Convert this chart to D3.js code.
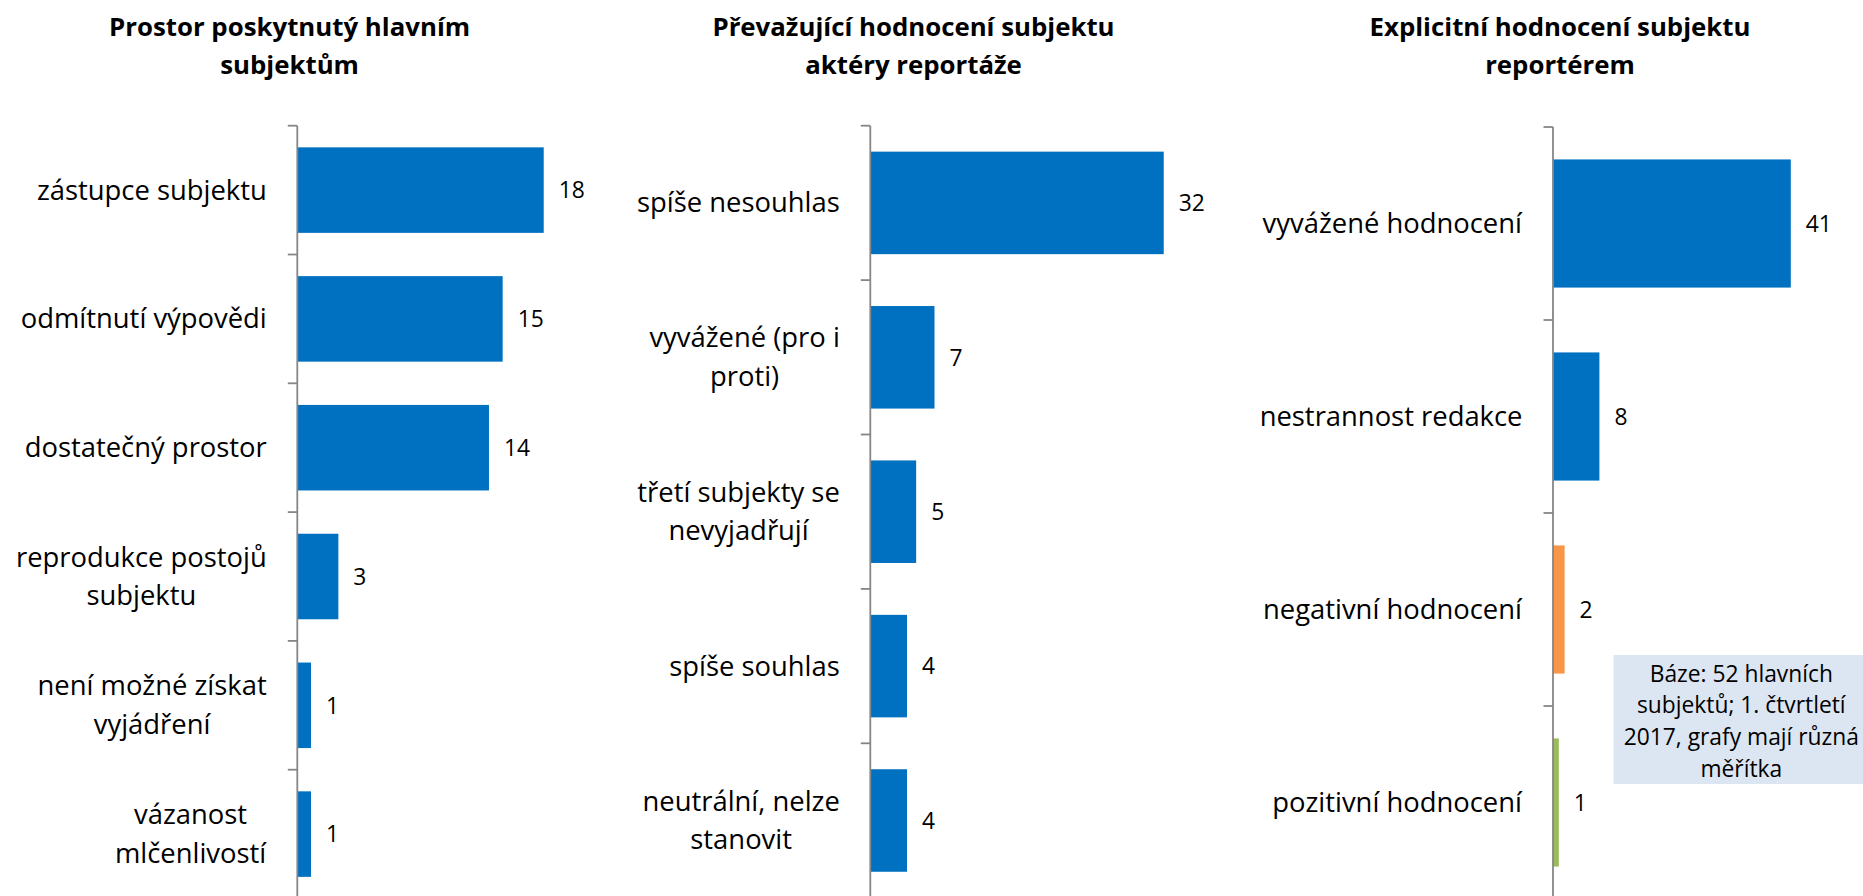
<!DOCTYPE html>
<html>
<head>
<meta charset="utf-8">
<title>Hodnocení hlavních subjektů</title>
<style>
  body { margin: 0; background: #fff; }
  svg { display: block; }
  text { font-family: "Open Sans", sans-serif; fill: #000; }
</style>
</head>
<body>
<script src="https://d3js.org/d3.v7.min.js"></script>
<script>
// --- data ---
var titles = [
  "Prostor poskytnutý hlavním\nsubjektům",
  "Převažující hodnocení subjektu\naktéry reportáže",
  "Explicitní hodnocení subjektu\nreportérem"
];

var cats1 = ["zástupce subjektu", "odmítnutí výpovědi", "dostatečný prostor",
             "reprodukce postojů\nsubjektu", "není možné získat\nvyjádření", "vázanost\nmlčenlivostí"];
var vals1 = [18, 15, 14, 3, 1, 1];

var cats2 = ["spíše nesouhlas", "vyvážené (pro i\nproti)", "třetí subjekty se\nnevyjadřují",
             "spíše souhlas", "neutrální, nelze\nstanovit"];
var vals2 = [32, 7, 5, 4, 4];

var cats3 = ["vyvážené hodnocení", "nestrannost redakce", "negativní hodnocení", "pozitivní hodnocení"];
var vals3 = [41, 8, 2, 1];

var noteLines = ["Báze: 52 hlavních", "subjektů; 1. čtvrtletí", "2017, grafy mají různá", "měřítka"];

// --- styles ---
var blue = "#0070C0";
var colors3 = [blue, blue, "#F79646", "#9BBB59"];

var width = 1863, height = 896;
var svg = d3.select("body").append("svg")
  .attr("width", width)
  .attr("height", height);

// each panel: where the axis sits and how long a unit is
var panels = [
  { title: titles[0], cats: cats1, vals: vals1, axisX: 297.3, top: 125.7, bottom: 898.5, max: 20, unit: 13.69, titleX: 289.6 },
  { title: titles[1], cats: cats2, vals: vals2, axisX: 870.3, top: 125.7, bottom: 897.7, max: 35, unit: 9.17, titleX: 913.5 },
  { title: titles[2], cats: cats3, vals: vals3, axisX: 1553, top: 127, bottom: 899, max: 45, unit: 5.8, titleX: 1560, colors: colors3 }
];

panels.forEach(function(p) {
  var g = svg.append("g");

  var y = d3.scaleBand()
    .domain(p.cats)
    .range([p.top, p.bottom])
    .paddingInner(0.336)
    .paddingOuter(0.168);

  var x = d3.scaleLinear()
    .domain([0, p.max])
    .range([p.axisX, p.axisX + p.max * p.unit]);

  // title
  var tt = g.append("text")
    .attr("text-anchor", "middle")
    .attr("font-size", 25.8)
    .attr("font-weight", "bold");
  p.title.split("\n").forEach(function(l, j) {
    tt.append("tspan").attr("x", p.titleX).attr("y", 35.5 + j * 38.5).text(l);
  });

  // bars
  g.selectAll("rect.bar")
    .data(p.vals)
    .enter().append("rect")
    .attr("class", "bar")
    .attr("x", x(0))
    .attr("y", function(d, i) { return y(p.cats[i]); })
    .attr("width", function(d) { return x(d) - x(0); })
    .attr("height", y.bandwidth())
    .attr("fill", function(d, i) { return p.colors ? p.colors[i] : blue; });

  // value labels
  g.selectAll("text.val")
    .data(p.vals)
    .enter().append("text")
    .attr("class", "val")
    .attr("x", function(d) { return x(d) + 15; })
    .attr("y", function(d, i) { return y(p.cats[i]) + y.bandwidth() / 2; })
    .attr("dy", "0.36em")
    .attr("font-size", 22.8)
    .text(function(d) { return d; });

  // axis line and ticks between categories
  var ax = g.append("g").attr("stroke", "#868686").attr("stroke-width", 1.8);
  ax.append("line")
    .attr("x1", p.axisX).attr("x2", p.axisX)
    .attr("y1", p.top).attr("y2", p.bottom);
  ax.selectAll("line.tick")
    .data(d3.range(p.cats.length + 1))
    .enter().append("line")
    .attr("class", "tick")
    .attr("x1", p.axisX - 9.5).attr("x2", p.axisX)
    .attr("y1", function(i) { return p.top + i * y.step(); })
    .attr("y2", function(i) { return p.top + i * y.step(); });

  // category labels, wrapped lines centred, block right-aligned
  var labelRight = p.axisX - 30.5;
  p.cats.forEach(function(c) {
    var lines = c.split("\n");
    var cy = y(c) + y.bandwidth() / 2;
    var t = g.append("text")
      .attr("text-anchor", "middle")
      .attr("font-size", 27.4);
    lines.forEach(function(l, j) {
      t.append("tspan")
        .attr("x", 0)
        .attr("y", cy + 9.4 + (j - (lines.length - 1) / 2) * 38.5)
        .text(l);
    });
    var w = t.node().getBBox().width;
    t.selectAll("tspan").attr("x", labelRight - w / 2);
  });
});

// note box
svg.append("rect")
  .attr("x", 1613.5).attr("y", 655)
  .attr("width", 256).attr("height", 129)
  .attr("fill", "#DCE6F2");

var nt = svg.append("text")
  .attr("text-anchor", "middle")
  .attr("font-size", 22.8);
noteLines.forEach(function(l, j) {
  nt.append("tspan").attr("x", 1741.3).attr("y", 681.7 + j * 31.7).text(l);
});
</script>
</body>
</html>
